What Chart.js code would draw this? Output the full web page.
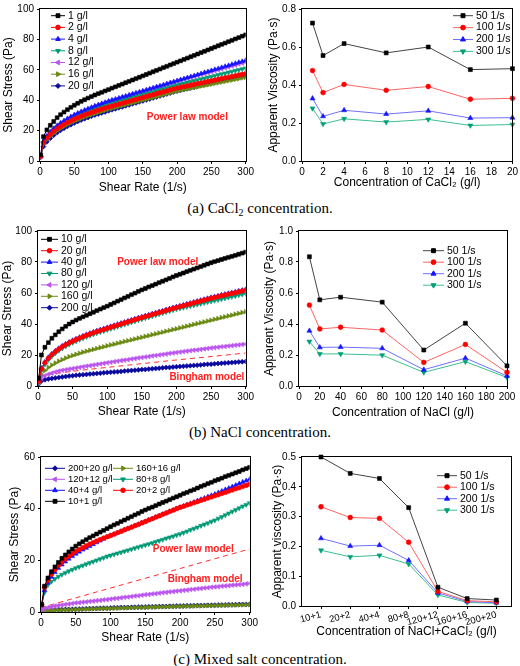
<!DOCTYPE html>
<html>
<head>
<meta charset="utf-8">
<script src="https://cdn.jsdelivr.net/npm/chart.js@4.4.0/dist/chart.umd.min.js"></script>
<style>
html, body { margin: 0; padding: 0; background: #fff; }
#wrap { position: relative; width: 520px; height: 666px; overflow: hidden; }
canvas { position: absolute; }
.cap { position: absolute; left: 0; width: 520px; height: 18px; line-height: 18px; text-align: center;
  font-family: "Liberation Serif", "Times New Roman", serif; font-size: 15px; color: #000; }
.cap sub { font-size: 10px; vertical-align: -3px; line-height: 0; }
</style>
</head>
<body>
<div id="wrap">
<canvas id="cA1" width="256" height="196" style="left:0;top:0"></canvas>
<canvas id="cA2" width="260" height="196" style="left:260px;top:0"></canvas>
<canvas id="cB1" width="256" height="198" style="left:0;top:222px"></canvas>
<canvas id="cB2" width="260" height="198" style="left:260px;top:222px"></canvas>
<canvas id="cC1" width="260" height="198" style="left:0;top:448px"></canvas>
<canvas id="cC2" width="260" height="198" style="left:260px;top:448px"></canvas>
<div class="cap" style="top:199px">(a) CaCl<sub>2</sub> concentration.</div>
<div class="cap" style="top:423px">(b) NaCl concentration.</div>
<div class="cap" style="top:650px">(c) Mixed salt concentration.</div>
</div>
<script>
// shear rate (1/s) shared by all flow curves
const shearRate = [1, 5, 10, 15, 20, 25, 30, 35, 40, 45,
  50, 55, 60, 65, 70, 75, 80, 85, 90, 95,
  100, 105, 110, 115, 120, 125, 130, 135, 140, 145,
  150, 155, 160, 165, 170, 175, 180, 185, 190, 195,
  200, 205, 210, 215, 220, 225, 230, 235, 240, 245,
  250, 255, 260, 265, 270, 275, 280, 285, 290, 295,
  300];

/* (a) CaCl2 - shear stress (Pa) */
const caLabels = ['1 g/l', '2 g/l', '4 g/l', '8 g/l', '12 g/l', '16 g/l', '20 g/l'];
const ca1 = [4, 16, 20.5, 23.5, 26, 28.5, 30.5, 32.2, 33.8, 35.3,
  36.7, 38, 39.2, 40.3, 41.4, 42.4, 43.4, 44.3, 45.2, 46.1,
  47, 47.9, 48.8, 49.7, 50.6, 51.5, 52.4, 53.3, 54.2, 55.1,
  56, 56.9, 57.8, 58.7, 59.6, 60.5, 61.4, 62.3, 63.2, 64.1,
  65, 65.9, 66.8, 67.7, 68.6, 69.5, 70.4, 71.3, 72.2, 73.1,
  74, 74.9, 75.8, 76.7, 77.6, 78.5, 79.4, 80.3, 81.2, 82.1,
  83];
const ca2 = [3, 12, 15.1, 17.5, 19.5, 21.2, 22.7, 24, 25.3, 26.4,
  27.5, 28.5, 29.4, 30.3, 31.1, 31.9, 32.7, 33.4, 34.1, 34.8,
  35.5, 36.1, 36.8, 37.4, 38, 38.6, 39.3, 39.9, 40.5, 41.1,
  41.8, 42.4, 43, 43.6, 44.3, 44.9, 45.5, 46.1, 46.8, 47.4,
  48, 48.5, 49, 49.4, 49.9, 50.4, 50.9, 51.3, 51.8, 52.3,
  52.8, 53.2, 53.7, 54.2, 54.7, 55.1, 55.6, 56.1, 56.6, 57,
  57.5];
const ca4 = [3.5, 13, 16.5, 19.2, 21.4, 23.3, 25, 26.5, 27.9, 29.2,
  30.4, 31.5, 32.5, 33.5, 34.4, 35.3, 36.2, 37, 37.8, 38.6,
  39.4, 40.1, 40.7, 41.4, 42.1, 42.7, 43.4, 44.1, 44.8, 45.4,
  46.1, 46.8, 47.4, 48.1, 48.8, 49.4, 50.1, 50.8, 51.5, 52.1,
  52.8, 53.5, 54.1, 54.8, 55.5, 56.1, 56.8, 57.5, 58.2, 58.8,
  59.5, 60.2, 60.8, 61.5, 62.2, 62.8, 63.5, 64.2, 64.9, 65.5,
  66.2];
const ca8 = [3, 12, 15.4, 18, 20.1, 21.9, 23.6, 25, 26.4, 27.7,
  28.8, 29.9, 30.8, 31.8, 32.7, 33.5, 34.4, 35.2, 35.9, 36.7,
  37.5, 38.1, 38.8, 39.4, 40, 40.6, 41.3, 41.9, 42.5, 43.1,
  43.8, 44.4, 45, 45.6, 46.3, 46.9, 47.5, 48.1, 48.8, 49.4,
  50, 50.6, 51.1, 51.7, 52.2, 52.8, 53.3, 53.9, 54.4, 55,
  55.5, 56.1, 56.6, 57.2, 57.7, 58.3, 58.8, 59.4, 59.9, 60.5,
  61];
const ca12 = [3.2, 12.5, 16, 18.7, 20.9, 22.8, 24.6, 26, 27.4, 28.8,
  30, 31.1, 32.1, 33.1, 34, 34.9, 35.8, 36.6, 37.4, 38.2,
  39, 39.7, 40.4, 41, 41.7, 42.4, 43.1, 43.7, 44.4, 45.1,
  45.8, 46.4, 47.1, 47.8, 48.5, 49.1, 49.8, 50.5, 51.2, 51.8,
  52.5, 53.1, 53.8, 54.4, 55, 55.6, 56.3, 56.9, 57.5, 58.1,
  58.8, 59.4, 60, 60.6, 61.3, 61.9, 62.5, 63.1, 63.8, 64.4,
  65];
const ca16 = [2.8, 11, 14.1, 16.4, 18.3, 20, 21.5, 22.8, 24, 25.1,
  26.2, 27.1, 28, 28.9, 29.7, 30.4, 31.2, 31.9, 32.6, 33.3,
  34, 34.6, 35.2, 35.8, 36.4, 37, 37.6, 38.2, 38.8, 39.4,
  40, 40.6, 41.2, 41.8, 42.4, 43, 43.6, 44.2, 44.8, 45.4,
  46, 46.5, 46.9, 47.4, 47.8, 48.3, 48.7, 49.2, 49.6, 50.1,
  50.5, 51, 51.4, 51.9, 52.3, 52.8, 53.2, 53.7, 54.1, 54.6,
  55];
const ca20 = [2.5, 9.5, 12.6, 15, 17, 18.7, 20.2, 21.5, 22.8, 23.9,
  25, 26, 26.9, 27.8, 28.6, 29.4, 30.2, 30.9, 31.6, 32.3,
  33, 33.7, 34.3, 35, 35.6, 36.3, 36.9, 37.6, 38.2, 38.9,
  39.5, 40.2, 40.8, 41.5, 42.1, 42.8, 43.4, 44.1, 44.7, 45.4,
  46, 46.5, 47.1, 47.6, 48.1, 48.6, 49.2, 49.7, 50.2, 50.7,
  51.3, 51.8, 52.3, 52.8, 53.4, 53.9, 54.4, 54.9, 55.5, 56,
  56.5];

/* (b) NaCl - shear stress (Pa) */
const naLabels = ['10 g/l', '20 g/l', '40 g/l', '80 g/l', '120 g/l', '160 g/l', '200 g/l'];
const na10 = [5, 20, 25, 28, 30.8, 33, 35, 36.8, 38.5, 40,
  41.3, 42.5, 43.6, 44.6, 45.6, 46.6, 47.6, 48.6, 49.6, 50.6,
  51.5, 52.6, 53.6, 54.7, 55.7, 56.8, 57.8, 58.9, 59.9, 61,
  62, 62.9, 63.9, 64.8, 65.7, 66.7, 67.6, 68.5, 69.4, 70.4,
  71.3, 72.1, 72.9, 73.8, 74.6, 75.4, 76.2, 77, 77.9, 78.7,
  79.5, 80.2, 80.9, 81.6, 82.3, 83, 83.6, 84.3, 85, 85.7,
  86.4];
const na20 = [3, 11, 15, 17.9, 20.2, 22.1, 23.8, 25.3, 26.6, 27.8,
  28.9, 29.9, 30.9, 31.8, 32.7, 33.5, 34.3, 35.1, 35.8, 36.5,
  37.2, 37.9, 38.6, 39.3, 40, 40.7, 41.4, 42.1, 42.8, 43.5,
  44.1, 44.8, 45.4, 46.1, 46.7, 47.4, 48, 48.7, 49.3, 50,
  50.6, 51.2, 51.8, 52.4, 53, 53.6, 54.2, 54.8, 55.4, 56,
  56.6, 57.1, 57.6, 58.2, 58.7, 59.2, 59.7, 60.2, 60.8, 61.3,
  61.8];
const na40 = [3, 11.5, 15.5, 18.4, 20.7, 22.6, 24.3, 25.8, 27.1, 28.3,
  29.4, 30.4, 31.4, 32.3, 33.2, 34, 34.8, 35.6, 36.3, 37,
  37.7, 38.4, 39.1, 39.8, 40.5, 41.2, 41.9, 42.6, 43.3, 44,
  44.6, 45.3, 45.9, 46.6, 47.2, 47.9, 48.5, 49.2, 49.8, 50.5,
  51.1, 51.7, 52.3, 52.9, 53.5, 54.1, 54.7, 55.3, 55.9, 56.5,
  57.1, 57.6, 58.1, 58.7, 59.2, 59.7, 60.2, 60.7, 61.3, 61.8,
  62.3];
const na80 = [2.5, 10, 14, 16.9, 19.2, 21.1, 22.8, 24.3, 25.6, 26.8,
  27.9, 28.9, 29.9, 30.8, 31.7, 32.5, 33.3, 34.1, 34.8, 35.5,
  36.2, 36.9, 37.6, 38.3, 39, 39.7, 40.4, 41.1, 41.8, 42.5,
  43.1, 43.8, 44.4, 45.1, 45.7, 46.4, 47, 47.7, 48.3, 49,
  49.6, 50.1, 50.6, 51.1, 51.6, 52.1, 52.6, 53.1, 53.6, 54.1,
  54.6, 55.1, 55.6, 56.1, 56.6, 57.1, 57.6, 58.1, 58.6, 59.1,
  59.6];
const na120 = [2, 5, 6.6, 7.6, 8.3, 9, 9.6, 10.1, 10.5, 10.9,
  11.2, 11.6, 12, 12.4, 12.8, 13.1, 13.5, 13.9, 14.2, 14.6,
  15, 15.3, 15.7, 16, 16.4, 16.7, 17, 17.4, 17.7, 18.1,
  18.4, 18.7, 19, 19.4, 19.7, 20, 20.3, 20.6, 21, 21.3,
  21.6, 21.9, 22.2, 22.5, 22.8, 23.1, 23.3, 23.6, 23.9, 24.2,
  24.5, 24.8, 25, 25.3, 25.5, 25.8, 26, 26.3, 26.5, 26.8,
  27];
const na160 = [2, 7, 10, 12, 13.5, 14.8, 16, 17, 18, 18.9,
  19.7, 20.4, 21.1, 21.8, 22.4, 23, 23.6, 24.2, 24.8, 25.3,
  25.9, 26.5, 27, 27.6, 28.1, 28.7, 29.2, 29.8, 30.3, 30.9,
  31.4, 32, 32.5, 33.1, 33.6, 34.2, 34.7, 35.3, 35.8, 36.4,
  36.9, 37.5, 38, 38.6, 39.1, 39.7, 40.2, 40.8, 41.3, 41.9,
  42.4, 43, 43.5, 44.1, 44.6, 45.2, 45.7, 46.3, 46.8, 47.4,
  47.9];
const na200 = [1.5, 3.3, 4, 4.5, 4.9, 5.2, 5.5, 5.8, 6.1, 6.4,
  6.6, 6.9, 7.1, 7.3, 7.5, 7.7, 7.9, 8.1, 8.3, 8.5,
  8.7, 8.9, 9.1, 9.2, 9.4, 9.6, 9.8, 10, 10.2, 10.4,
  10.6, 10.7, 10.9, 11.1, 11.3, 11.5, 11.7, 11.9, 12, 12.2,
  12.4, 12.6, 12.7, 12.9, 13.1, 13.3, 13.4, 13.6, 13.8, 14,
  14.1, 14.3, 14.5, 14.6, 14.8, 15, 15.1, 15.3, 15.5, 15.6,
  15.8];
const naModelRate = [0, 50, 100, 150, 200, 250, 300];
const naModel = [6.5, 9.5, 12, 14.4, 16.8, 19, 21.3];

/* (c) NaCl+CaCl2 - shear stress (Pa) */
const mixLabels = ['10+1 g/l', '20+2 g/l', '40+4 g/l', '80+8 g/l', '120+12 g/l', '160+16 g/l', '200+20 g/l'];
const mix10 = [3, 10, 13.2, 15.6, 17.5, 19.2, 20.8, 22.1, 23.3, 24.4,
  25.5, 26.4, 27.2, 28, 28.8, 29.5, 30.2, 30.9, 31.6, 32.3,
  33, 33.7, 34.3, 35, 35.6, 36.3, 36.9, 37.6, 38.2, 38.9,
  39.5, 40.1, 40.6, 41.2, 41.8, 42.4, 42.9, 43.5, 44.1, 44.6,
  45.2, 45.8, 46.3, 46.9, 47.4, 48, 48.6, 49.1, 49.7, 50.2,
  50.8, 51.3, 51.8, 52.4, 52.9, 53.4, 53.9, 54.4, 55, 55.5,
  56];
const mix20 = [2.8, 9.5, 12.3, 14.6, 16.4, 18, 19.3, 20.5, 21.6, 22.6,
  23.5, 24.2, 24.9, 25.6, 26.3, 26.9, 27.5, 28, 28.6, 29.1,
  29.6, 30.1, 30.7, 31.2, 31.8, 32.3, 32.8, 33.4, 33.9, 34.5,
  35, 35.6, 36.1, 36.7, 37.2, 37.8, 38.3, 38.9, 39.4, 40,
  40.5, 40.9, 41.4, 41.8, 42.3, 42.7, 43.2, 43.6, 44.1, 44.5,
  45, 45.4, 45.9, 46.3, 46.8, 47.2, 47.7, 48.1, 48.6, 49,
  49.5];
const mix40 = [2.5, 8.5, 11.3, 13.6, 15.4, 17, 18.3, 19.5, 20.6, 21.6,
  22.5, 23.3, 24.1, 24.8, 25.5, 26.2, 26.9, 27.6, 28.3, 29,
  29.6, 30.1, 30.7, 31.2, 31.8, 32.3, 32.8, 33.4, 33.9, 34.5,
  35, 35.6, 36.1, 36.7, 37.2, 37.8, 38.3, 38.9, 39.4, 40,
  40.5, 41, 41.5, 42, 42.5, 43.1, 43.6, 44.1, 44.6, 45.1,
  45.6, 46.2, 46.8, 47.4, 47.9, 48.5, 49.1, 49.7, 50.3, 50.8,
  51.4];
const mix80 = [2.5, 7.5, 10.5, 11.8, 12.8, 13.7, 14.5, 15.2, 15.8, 16.4,
  17, 17.5, 18, 18.5, 19, 19.5, 20, 20.5, 21, 21.5,
  21.9, 22.3, 22.7, 23.1, 23.5, 23.9, 24.3, 24.7, 25.1, 25.5,
  25.9, 26.3, 26.7, 27.2, 27.6, 28, 28.5, 28.9, 29.3, 29.8,
  30.2, 30.7, 31.2, 31.8, 32.3, 32.8, 33.4, 33.9, 34.4, 35,
  35.5, 36.2, 36.8, 37.5, 38.2, 38.9, 39.5, 40.2, 40.9, 41.5,
  42.2];
const mix120 = [0.8, 1.3, 1.7, 2, 2.3, 2.5, 2.7, 2.9, 3.1, 3.3,
  3.5, 3.6, 3.8, 3.9, 4.1, 4.2, 4.4, 4.5, 4.7, 4.8,
  5, 5.2, 5.3, 5.5, 5.7, 5.8, 6, 6.2, 6.3, 6.5,
  6.7, 6.8, 7, 7.1, 7.3, 7.5, 7.6, 7.8, 7.9, 8.1,
  8.2, 8.4, 8.5, 8.7, 8.8, 9, 9.1, 9.3, 9.4, 9.6,
  9.7, 9.8, 10, 10.1, 10.2, 10.4, 10.5, 10.6, 10.7, 10.9,
  11];
const mix160 = [0.2, 0.4, 0.5, 0.6, 0.65, 0.7, 0.75, 0.8, 0.85, 0.9,
  0.95, 1, 1.05, 1.1, 1.15, 1.2, 1.25, 1.3, 1.35, 1.4,
  1.4, 1.45, 1.5, 1.55, 1.6, 1.6, 1.65, 1.7, 1.75, 1.75,
  1.8, 1.85, 1.9, 1.9, 1.95, 2, 2, 2.05, 2.1, 2.15,
  2.15, 2.2, 2.25, 2.25, 2.3, 2.35, 2.35, 2.4, 2.45, 2.45,
  2.5, 2.55, 2.55, 2.6, 2.65, 2.65, 2.7, 2.7, 2.75, 2.8,
  2.8];
const mix200 = [0.3, 0.5, 0.6, 0.7, 0.8, 0.85, 0.9, 0.95, 1, 1.05,
  1.1, 1.15, 1.2, 1.25, 1.3, 1.35, 1.4, 1.45, 1.5, 1.5,
  1.55, 1.6, 1.65, 1.7, 1.7, 1.75, 1.8, 1.85, 1.9, 1.9,
  1.95, 2, 2, 2.05, 2.1, 2.15, 2.15, 2.2, 2.25, 2.3,
  2.3, 2.35, 2.4, 2.4, 2.45, 2.5, 2.5, 2.55, 2.6, 2.6,
  2.65, 2.7, 2.7, 2.75, 2.8, 2.8, 2.85, 2.9, 2.9, 2.95,
  3];
const mixModelRate = [0, 300];
const mixModel = [1.7, 24.4];

/* apparent viscosity (Pa·s) */
const rateLabels = ['50 1/s', '100 1/s', '200 1/s', '300 1/s'];
const caConc = [1, 2, 4, 8, 12, 16, 20];
const caVis50 = [0.726, 0.555, 0.618, 0.569, 0.6, 0.481, 0.486];
const caVis100 = [0.476, 0.36, 0.403, 0.372, 0.392, 0.325, 0.33];
const caVis200 = [0.329, 0.235, 0.267, 0.247, 0.264, 0.226, 0.228];
const caVis300 = [0.277, 0.195, 0.222, 0.205, 0.219, 0.187, 0.192];

const naConc = [10, 20, 40, 80, 120, 160, 200];
const naVis50 = [0.834, 0.556, 0.573, 0.541, 0.232, 0.405, 0.13];
const naVis100 = [0.522, 0.368, 0.379, 0.361, 0.152, 0.268, 0.088];
const naVis200 = [0.356, 0.249, 0.251, 0.243, 0.105, 0.18, 0.065];
const naVis300 = [0.287, 0.207, 0.207, 0.199, 0.088, 0.157, 0.055];

const mixConc = ['10+1', '20+2', '40+4', '80+8', '120+12', '160+16', '200+20'];
const mixPos = [0, 1, 2, 3, 4, 5, 6];
const mixVis50 = [0.5, 0.445, 0.428, 0.33, 0.063, 0.025, 0.02];
const mixVis100 = [0.333, 0.297, 0.294, 0.214, 0.049, 0.018, 0.014];
const mixVis200 = [0.227, 0.201, 0.204, 0.153, 0.044, 0.015, 0.011];
const mixVis300 = [0.187, 0.165, 0.17, 0.141, 0.037, 0.012, 0.009];

const FONT = "'Liberation Sans', Arial, sans-serif";
Chart.defaults.font.family = FONT;
Chart.defaults.color = '#000';

// marker / line styles (Origin-like)
const ST = [
	{ mark: '#000000', line: '#000000', shape: 'rect', r: 2.7 },
	{ mark: '#ff0000', line: '#ff0000', shape: 'circle', r: 2.3 },
	{ mark: '#1515ff', line: '#1515ff', shape: 'triangle', r: 2.7 },
	{ mark: '#009a76', line: '#009a76', shape: 'triangle', rot: 180, r: 2.7 },
	{ mark: '#bb55ee', line: '#bb55ee', shape: 'triangle', rot: 270, r: 2.7 },
	{ mark: '#6b8a12', line: '#6b8a12', shape: 'triangle', rot: 90, r: 2.7 },
	{ mark: '#0a0aa0', line: '#0a0aa0', shape: 'rectRot', r: 2.5 }
];
const VS = [
	{ mark: '#000000', line: '#444444', shape: 'rect', r: 2.8 },
	{ mark: '#ff0000', line: '#ff6464', shape: 'circle', r: 2.4 },
	{ mark: '#1515ff', line: '#7070ff', shape: 'triangle', r: 2.9 },
	{ mark: '#00a07a', line: '#3cbf8c', shape: 'triangle', rot: 180, r: 2.9 }
];

function series(label, xs, ys, st) {
	return {
		label: label,
		data: xs.map(function (x, i) { return { x: x, y: ys[i] }; }),
		borderColor: st.line,
		backgroundColor: st.mark,
		pointBackgroundColor: st.mark,
		pointBorderColor: st.mark,
		pointBorderWidth: 0.6,
		pointStyle: st.shape,
		pointRotation: st.rot || 0,
		pointRadius: st.r,
		borderWidth: 1,
		tension: 0
	};
}

function dashed(xs, ys) {
	return {
		label: 'model',
		data: xs.map(function (x, i) { return { x: x, y: ys[i] }; }),
		borderColor: '#ff3030',
		borderDash: [5, 4],
		borderWidth: 1,
		pointRadius: 0,
		tension: 0.3
	};
}

// box around plot area
const frame = {
	id: 'frame',
	afterDraw(chart) {
		const { ctx, chartArea: a } = chart;
		ctx.save();
		ctx.strokeStyle = '#000';
		ctx.lineWidth = 1;
		const l = Math.round(a.left) - 0.5, t = Math.round(a.top) - 0.5;
		ctx.strokeRect(l, t, Math.round(a.right) - Math.round(a.left) + 1, Math.round(a.bottom) - Math.round(a.top) + 1);
		ctx.restore();
	}
};

// legend with a line sample and marker, as in Origin
function lineLegend(o) {
	return {
		id: 'lineLegend',
		afterDraw(chart) {
			const ctx = chart.ctx;
			ctx.save();
			ctx.font = (o.fs || 10.5) + 'px ' + FONT;
			ctx.textBaseline = 'middle';
			o.order.forEach(function (di, k) {
				const ds = chart.data.datasets[di];
				const col = k % o.cols, row = Math.floor(k / o.cols);
				const x = o.x + col * o.colW, y = o.y + row * o.dy;
				ctx.strokeStyle = ds.borderColor;
				ctx.lineWidth = 1;
				ctx.beginPath();
				ctx.moveTo(x, y);
				ctx.lineTo(x + o.len, y);
				ctx.stroke();
				ctx.fillStyle = ds.pointBackgroundColor;
				ctx.strokeStyle = ds.pointBorderColor;
				Chart.helpers.drawPoint(ctx, {
					pointStyle: ds.pointStyle, rotation: ds.pointRotation,
					radius: ds.pointRadius, borderWidth: ds.pointBorderWidth
				}, x + o.len / 2, y);
				ctx.fillStyle = '#000';
				ctx.fillText(ds.label, x + o.len + 3, y);
			});
			ctx.restore();
		}
	};
}

// red model labels inside the plot
function notes(list) {
	return {
		id: 'notes',
		afterDraw(chart) {
			const ctx = chart.ctx;
			ctx.save();
			ctx.font = 'bold 10px ' + FONT;
			ctx.fillStyle = '#ff2020';
			ctx.textAlign = 'center';
			ctx.textBaseline = 'middle';
			list.forEach(function (n) {
				ctx.fillText(n.text, chart.scales.x.getPixelForValue(n.x), chart.scales.y.getPixelForValue(n.y));
			});
			ctx.restore();
		}
	};
}

function axis(o) {
	const ax = {
		type: 'linear',
		min: o.min,
		max: o.max,
		ticks: {
			stepSize: o.step,
			font: { size: o.fs || 10 },
			color: '#000',
			padding: o.tpad,
			autoSkip: false,
			maxRotation: o.rot || 0,
			minRotation: o.rot || 0
		},
		grid: { display: true, drawOnChartArea: false, drawTicks: true, tickLength: 3, color: '#000', lineWidth: 1 },
		border: { display: false },
		title: { display: true, text: o.title, font: { size: 12 }, color: '#000', padding: o.titlePad },
		afterFit: o.fit
	};
	if (o.fmt) ax.ticks.callback = o.fmt;
	if (o.afterBuildTicks) ax.afterBuildTicks = o.afterBuildTicks;
	return ax;
}

function makeChart(id, c) {
	return new Chart(document.getElementById(id), {
		type: 'line',
		data: { datasets: c.datasets },
		options: {
			responsive: false,
			animation: false,
			layout: { padding: { top: c.pad[0], right: c.pad[1], bottom: 0, left: 0 } },
			plugins: { legend: { display: false }, tooltip: { enabled: false } },
			scales: { x: c.x, y: c.y }
		},
		plugins: [frame, lineLegend(c.legend), notes(c.notes || [])]
	});
}

const fix1 = function (v) { return v.toFixed(1); };

/* (a) */
makeChart('cA1', {
	datasets: [ca1, ca2, ca4, ca8, ca12, ca16, ca20].map(function (ys, i) { return series(caLabels[i], shearRate, ys, ST[i]); }),
	pad: [6, 8],
	x: axis({ min: 0, max: 300, step: 50, tpad: 2, title: 'Shear Rate (1/s)', titlePad: { top: 0, bottom: 1 }, fit: function (s) { s.height = 35; } }),
	y: axis({ min: 0, max: 100, step: 20, tpad: 3, title: 'Shear Stress (Pa)', titlePad: { top: 1, bottom: 0 }, fit: function (s) { s.width = 40; } }),
	legend: { x: 51, y: 15.7, dy: 11.7, len: 14, cols: 1, colW: 0, order: [0, 1, 2, 3, 4, 5, 6] },
	notes: [{ text: 'Power law model', x: 215, y: 29 }]
});

makeChart('cA2', {
	datasets: [caVis50, caVis100, caVis200, caVis300].map(function (ys, i) {
		const d = series(rateLabels[i], caConc, ys, VS[i]); d.clip = false; return d;
	}),
	pad: [5, 7],
	x: axis({ min: 0, max: 20, step: 2, tpad: 2, title: 'Concentration of CaCl\u2082 (g/l)', titlePad: { top: 0, bottom: 6 }, fit: function (s) { s.height = 35; } }),
	y: axis({ min: 0, max: 0.8, step: 0.2, tpad: 3, fmt: fix1, title: 'Apparent Viscosity (Pa\u00b7s)', titlePad: { top: 6, bottom: 0 }, fit: function (s) { s.width = 42; } }),
	legend: { x: 193, y: 15.7, dy: 11.9, len: 20, cols: 1, colW: 0, order: [0, 1, 2, 3] }
});

/* (b) */
makeChart('cB1', {
	datasets: [na10, na20, na40, na80, na120, na160, na200].map(function (ys, i) { return series(naLabels[i], shearRate, ys, ST[i]); })
		.concat([dashed(naModelRate, naModel)]),
	pad: [9, 10],
	x: axis({ min: 0, max: 300, step: 50, tpad: 2, title: 'Shear Rate (1/s)', titlePad: { top: 0, bottom: 1 }, fit: function (s) { s.height = 34; } }),
	y: axis({ min: 0, max: 100, step: 20, tpad: 3, title: 'Shear Stress (Pa)', titlePad: { top: 0, bottom: 0 }, fit: function (s) { s.width = 38; } }),
	legend: { x: 41, y: 17.3, dy: 11.4, len: 17, cols: 1, colW: 0, order: [0, 1, 2, 3, 4, 5, 6] },
	notes: [{ text: 'Power law model', x: 173, y: 80 }, { text: 'Bingham model', x: 244, y: 5.8 }]
});

makeChart('cB2', {
	datasets: [naVis50, naVis100, naVis200, naVis300].map(function (ys, i) {
		const d = series(rateLabels[i], naConc, ys, VS[i]); d.clip = false; return d;
	}),
	pad: [9, 13],
	x: axis({ min: 0, max: 200, step: 20, tpad: 2, title: 'Concentration of NaCl (g/l)', titlePad: { top: 0, bottom: 0 }, fit: function (s) { s.height = 34; } }),
	y: axis({ min: 0, max: 1, step: 0.2, tpad: 3, fmt: fix1, title: 'Apparent Viscosity (Pa\u00b7s)', titlePad: { top: 2, bottom: 0 }, fit: function (s) { s.width = 39; } }),
	legend: { x: 163, y: 28.7, dy: 11.5, len: 21, cols: 1, colW: 0, order: [0, 1, 2, 3] }
});

/* (c) */
makeChart('cC1', {
	datasets: [mix10, mix20, mix40, mix80, mix120, mix160, mix200].map(function (ys, i) { return series(mixLabels[i], shearRate, ys, ST[i]); })
		.concat([dashed(mixModelRate, mixModel)]),
	pad: [8, 8],
	x: axis({ min: 0, max: 300, step: 50, tpad: 2, title: 'Shear Rate (1/s)', titlePad: { top: 0, bottom: 1 }, fit: function (s) { s.height = 34; } }),
	y: axis({ min: 0, max: 60, step: 20, tpad: 3, title: 'Shear Stress (Pa)', titlePad: { top: 7, bottom: 0 }, fit: function (s) { s.width = 41; } }),
	legend: { x: 45, y: 20.3, dy: 11, len: 20, cols: 2, colW: 68, fs: 9.5, order: [6, 5, 4, 3, 2, 1, 0] },
	notes: [{ text: 'Power law model', x: 219, y: 24.2 }, { text: 'Bingham model', x: 236, y: 12.7 }]
});

makeChart('cC2', {
	datasets: [mixVis50, mixVis100, mixVis200, mixVis300].map(function (ys, i) {
		const d = series(rateLabels[i], mixPos, ys, VS[i]); d.clip = false; return d;
	}),
	pad: [8, 9],
	x: axis({
		min: -0.65, max: 6.5, step: 1, tpad: 0, rot: 15, fs: 9.5,
		fmt: function (v) { return mixConc[v]; },
		afterBuildTicks: function (s) { s.ticks = mixPos.map(function (p) { return { value: p }; }); },
		title: 'Concentration of NaCl+CaCl\u2082 (g/l)', titlePad: { top: 0, bottom: 7 }, fit: function (s) { s.height = 40; }
	}),
	y: axis({ min: 0, max: 0.5, step: 0.1, tpad: 3, fmt: fix1, title: 'Apparent viscosity (Pa\u00b7s)', titlePad: { top: 10, bottom: 0 }, fit: function (s) { s.width = 42; } }),
	legend: { x: 177, y: 27.7, dy: 11.5, len: 20, cols: 1, colW: 0, order: [0, 1, 2, 3] }
});
</script>
</body>
</html>
